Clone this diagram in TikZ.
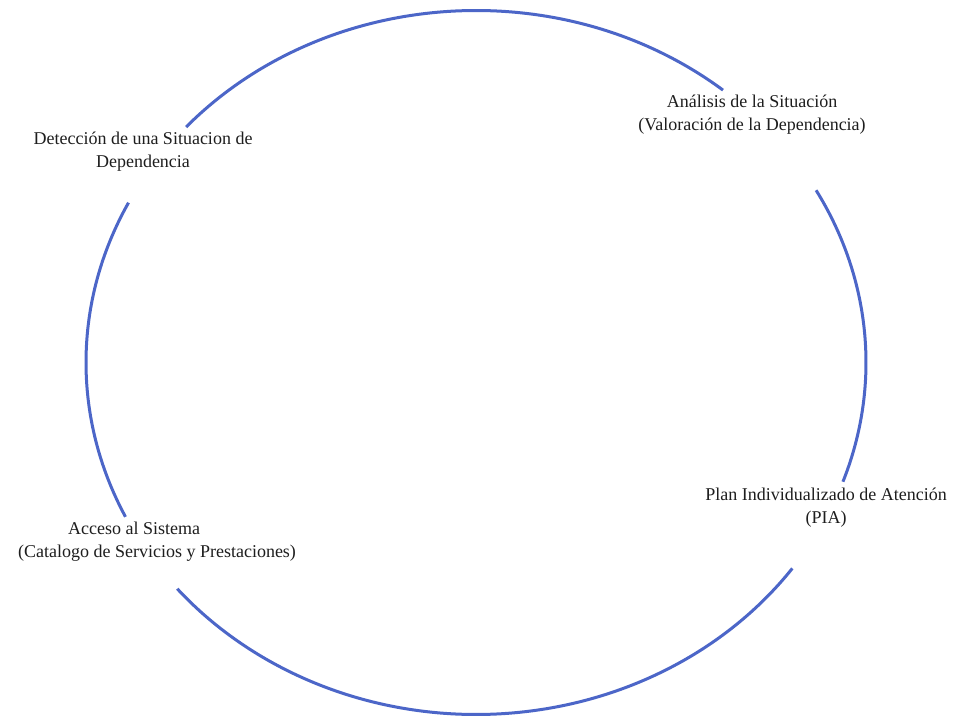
\documentclass[tikz,border=0pt]{standalone}
\usepackage{fontspec}
\setmainfont{Liberation Serif}
\newfontfamily\timesfont{Liberation Serif}
\definecolor{arcblue}{RGB}{76,102,200}
\definecolor{txt}{RGB}{30,30,30}
\begin{document}
\begin{tikzpicture}[x=1pt,y=1pt,
  arcline/.style={draw=arcblue,line width=3pt},
  lbl/.style={text=txt,font=\timesfont\fontsize{18}{23}\selectfont,inner sep=0pt}]
\useasboundingbox (0,0) rectangle (955,715);
\fill[white] (0,0) rectangle (955,715);
\coordinate (c) at (476,352.5);
% four arcs of the cycle
\draw[arcline] (c) ++(138:390pt and 352pt) arc[start angle=138,end angle=50.7,x radius=390pt,y radius=352pt];
\draw[arcline] (c) ++(29.3:390pt and 352pt) arc[start angle=29.3,end angle=-19.8,x radius=390pt,y radius=352pt];
\draw[arcline] (c) ++(-35.8:390pt and 352pt) arc[start angle=-35.8,end angle=-140,x radius=390pt,y radius=352pt];
\draw[arcline] (c) ++(153:390pt and 352pt) arc[start angle=153,end angle=206,x radius=390pt,y radius=352pt];
% labels
\node[lbl,align=center] (det) at (143,563) {Detección de una Situacion de\\Dependencia};
\node[lbl,align=center] (ana) at (752,600) {Análisis de la Situación\\(Valoración de la Dependencia)};
\node[lbl,align=center] (pia) at (826,207) {Plan Individualizado de Atención\\(PIA)};
\node[lbl,align=left] (acc) at (157,173) {\hspace*{50pt}Acceso al Sistema\\(Catalogo de Servicios y Prestaciones)};
\end{tikzpicture}
\end{document}
